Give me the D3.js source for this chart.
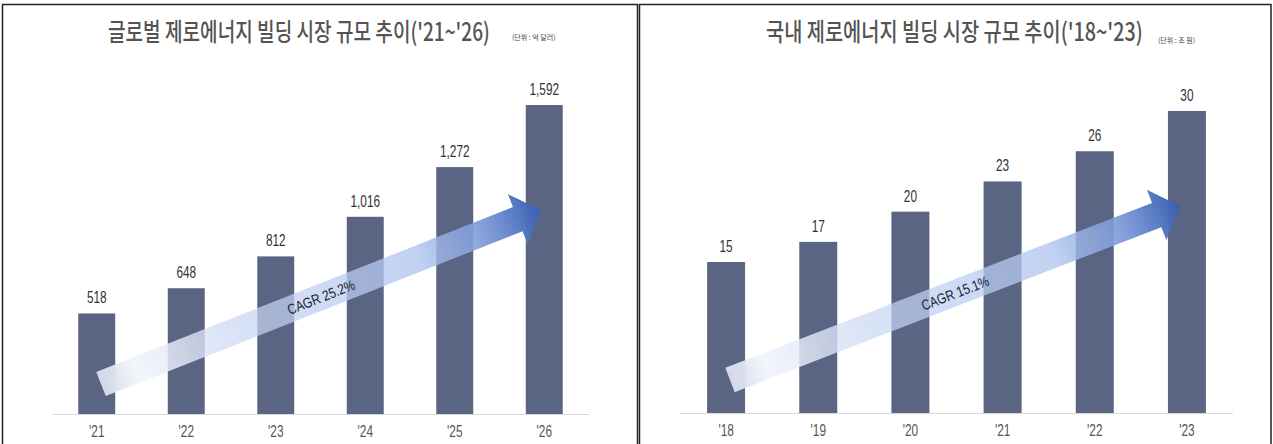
<!DOCTYPE html>
<html>
<head>
<meta charset="utf-8">
<script src="https://cdn.jsdelivr.net/npm/d3@7"></script>
<style>
  html, body { margin: 0; padding: 0; background: #fff; }
  svg { display: block; }
</style>
</head>
<body>
<svg id="chart" width="1273" height="444"></svg>
<script>
// ---- data ----
const globalYears = ["'21", "'22", "'23", "'24", "'25", "'26"];
const globalValues = [518, 648, 812, 1016, 1272, 1592];
const globalTitle = "글로벌 제로에너지 빌딩 시장 규모 추이('21~'26)";
const globalUnit = "(단위 : 억 달러)";
const globalCagr = "CAGR 25.2%";

const domesticYears = ["'18", "'19", "'20", "'21", "'22", "'23"];
const domesticValues = [15, 17, 20, 23, 26, 30];
const domesticTitle = "국내 제로에너지 빌딩 시장 규모 추이('18~'23)";
const domesticUnit = "(단위 : 조 원)";
const domesticCagr = "CAGR 15.1%";

const svg = d3.select("#chart");
const defs = svg.append("defs");

const BAR = "#5a6483";
const NUM_FONT = "'Liberation Sans', Arial, sans-serif";
const KR_FONT = "'Noto Sans CJK KR', 'Noto Sans', sans-serif";
const NARROW = 0.74; // horizontal squeeze for the condensed number style

// gradient for the growth arrow: pale tail, fading to a translucent band, solid blue head
const grad = defs.append("linearGradient").attr("id", "arrowGrad")
  .attr("x1", "0%").attr("x2", "100%").attr("y1", "0%").attr("y2", "0%");
[
  [0, "#d3d9e9", 1],
  [0.08, "#f2f4fb", 0.9],
  [0.35, "#c6d5f2", 0.72],
  [0.72, "#afc5ee", 0.78],
  [0.88, "#7794d6", 0.93],
  [1, "#3a5fb2", 1]
].forEach(([o, c, a]) => grad.append("stop")
  .attr("offset", o).attr("stop-color", c).attr("stop-opacity", a));

// squeeze a text horizontally so that it spans the given width from its anchor x
function condense(sel, x, y, width) {
  sel.attr("transform", null);
  const natural = sel.node().getComputedTextLength();
  sel.attr("transform", `translate(${x},${y}) scale(${width / natural},1)`);
}

function panel(cfg) {
  const g = svg.append("g");

  // frame
  g.append("rect")
    .attr("x", cfg.frame[0]).attr("y", cfg.frame[1])
    .attr("width", cfg.frame[2]).attr("height", cfg.frame[3])
    .attr("fill", "none").attr("stroke", "#222").attr("stroke-width", 1.5);

  // title + unit
  const title = g.append("text")
    .attr("font-family", KR_FONT).attr("font-size", 25).attr("font-weight", 500)
    .attr("fill", "#545454").text(cfg.title);
  condense(title, cfg.titleX, cfg.titleY, cfg.titleLen);
  g.append("text")
    .attr("x", cfg.unitX).attr("y", cfg.unitY)
    .attr("font-family", KR_FONT).attr("font-size", 7)
    .attr("fill", "#444").text(cfg.unit);

  const x = d3.scaleBand().domain(cfg.cats).range(cfg.xRange)
    .paddingInner(cfg.pad).paddingOuter(cfg.pad / 2);
  const y = d3.scaleLinear().domain([0, cfg.yMax]).range([cfg.base, cfg.yTop]);

  // baseline
  g.append("line")
    .attr("x1", cfg.xRange[0]).attr("x2", cfg.xRange[1])
    .attr("y1", cfg.base + 0.5).attr("y2", cfg.base + 0.5)
    .attr("stroke", "#d9d9d9").attr("stroke-width", 1);

  // bars
  g.selectAll("rect.bar").data(cfg.values).join("rect").attr("class", "bar")
    .attr("x", (d, i) => x(cfg.cats[i]))
    .attr("width", x.bandwidth())
    .attr("y", d => y(d))
    .attr("height", d => cfg.base - y(d))
    .attr("fill", BAR);

  // value labels
  g.selectAll("text.val").data(cfg.values).join("text").attr("class", "val")
    .attr("transform", (d, i) =>
      `translate(${x(cfg.cats[i]) + x.bandwidth() / 2},${y(d) - 10}) scale(${NARROW},1)`)
    .attr("text-anchor", "middle")
    .attr("font-family", NUM_FONT).attr("font-size", 16)
    .attr("fill", "#333")
    .text(d => cfg.fmt(d));

  // category axis
  const axis = d3.axisBottom(x).tickSize(0).tickPadding(12);
  const ax = g.append("g").attr("transform", `translate(0,${cfg.base})`).call(axis);
  ax.select(".domain").remove();
  ax.selectAll("text")
    .attr("transform", `scale(${NARROW},1)`)
    .attr("font-family", NUM_FONT).attr("font-size", 16).attr("fill", "#555");

  // growth arrow
  const [tx, ty] = cfg.tail, [hx, hy] = cfg.tip;
  const L = Math.hypot(hx - tx, hy - ty);
  const ang = Math.atan2(hy - ty, hx - tx) * 180 / Math.PI;
  const sw = 13, hw = 27, hl = 25;
  const ag = g.append("g").attr("transform", `translate(${tx},${ty}) rotate(${ang})`);
  ag.append("path")
    .attr("d", d3.line()([
      [0, -sw], [L - hl, -sw], [L - hl, -hw], [L, 0],
      [L - hl, hw], [L - hl, sw], [0, sw]
    ]) + "Z")
    .attr("fill", "url(#arrowGrad)");
  ag.append("text")
    .attr("transform", `translate(${L * 0.5},0) scale(0.82,1)`)
    .attr("dy", "0.36em")
    .attr("text-anchor", "middle")
    .attr("font-family", NUM_FONT).attr("font-size", 14.5)
    .attr("fill", "#1a2030").text(cfg.cagr);
}

const fmt = d3.format(",");

panel({
  frame: [2.5, 4.5, 635, 460],
  title: globalTitle, titleX: 108, titleY: 41, titleLen: 382,
  unit: globalUnit, unitX: 512, unitY: 40,
  cats: globalYears, values: globalValues,
  xRange: [52, 589], pad: 0.587,
  yMax: 1592, base: 414, yTop: 105,
  fmt: fmt, cagr: globalCagr,
  tail: [101, 384], tip: [541, 210]
});

panel({
  frame: [639.5, 4.5, 631.5, 460],
  title: domesticTitle, titleX: 766, titleY: 41, titleLen: 377,
  unit: domesticUnit, unitX: 1158, unitY: 43,
  cats: domesticYears, values: domesticValues,
  xRange: [680, 1233], pad: 0.588,
  yMax: 30, base: 413, yTop: 111,
  fmt: fmt, cagr: domesticCagr,
  tail: [730, 380], tip: [1180, 206]
});
</script>
</body>
</html>
